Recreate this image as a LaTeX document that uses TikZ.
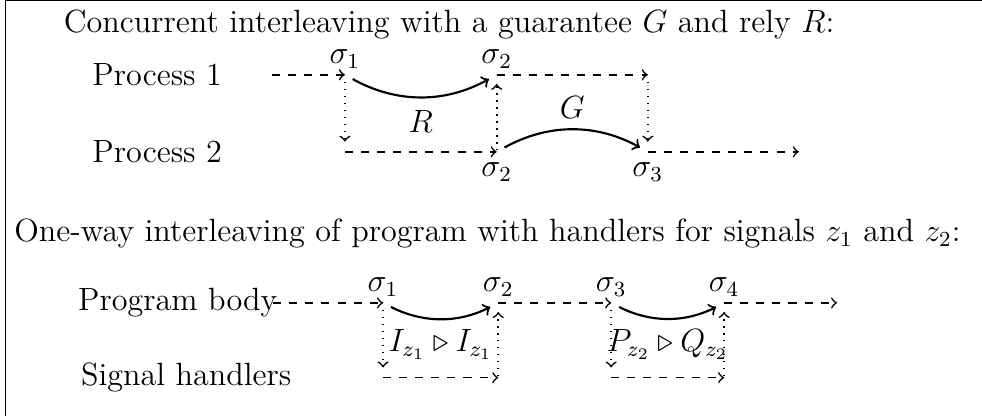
\documentclass[tikz,border=0pt,12pt]{standalone}
\usetikzlibrary{arrows}

\begin{document}
\begin{tikzpicture}[
    trace/.style={->, dashed, semithick},
    env/.style={->, dotted, semithick, shorten <=2.6pt, shorten >=3.8pt},
    back/.style={->, dotted, semithick, shorten <=0.5pt, shorten >=3.4pt},
    move/.style={->, thick, shorten <=3.3pt, shorten >=3.3pt},
    tag/.style={inner sep=2.3pt}
]
    \useasboundingbox (0,0) rectangle (12.87,-5.452);
    \draw (0.075,-5.6) -- (0.075,-0.009) -- (13,-0.009);

    % Concurrent interleaving
    \node[anchor=base west] (title1) at (0.69,-0.42) {Concurrent interleaving with a guarantee $G$ and rely $R$:};
    \node (proc1) at (2.06,-0.98) {Process 1};
    \node (proc2) at (2.06,-1.99) {Process 2};

    \coordinate (in1) at (3.56,-0.98);
    \coordinate[label={[tag]above:$\sigma_1$}] (p1) at (4.52,-0.98);
    \coordinate[label={[tag]above:$\sigma_2$}] (p2) at (6.51,-0.98);
    \coordinate (p3) at (8.49,-0.98);
    \coordinate (q1) at (4.52,-1.99);
    \coordinate[label=below:$\sigma_2$] (q2) at (6.51,-1.99);
    \coordinate[label=below:$\sigma_3$] (q3) at (8.49,-1.99);
    \coordinate (out1) at (10.47,-1.99);

    \draw[trace] (in1) -- (p1);
    \draw[move] (p1) to[bend right=29] node[below=1pt] (rely) {$R$} (p2);
    \draw[trace] (p2) -- (p3);
    \draw[env] (p1) -- (q1);
    \draw[trace] (q1) -- (q2);
    \draw[back] (q2) -- (p2);
    \draw[move] (q2) to[bend left=29] node[above] (guar) {$G$} (q3);
    \draw[env] (p3) -- (q3);
    \draw[trace] (q3) -- (out1);

    % One-way interleaving
    \node[anchor=base west] (title2) at (0.04,-3.17) {One-way interleaving of program with handlers for signals $z_1$ and $z_2$:};
    \node (body) at (2.33,-3.97) {Program body};
    \node (hand) at (2.44,-4.95) {Signal handlers};

    \coordinate (in2) at (3.58,-3.97);
    \foreach \n/\x in {1/5.02, 2/6.53, 3/8.01, 4/9.49} {
        \coordinate[label={[tag]above:$\sigma_\n$}] (u\n) at (\x,-3.97);
        \coordinate (v\n) at (\x,-4.95);
    }
    \coordinate (out2) at (10.97,-3.97);

    \draw[trace] (in2) -- (u1);
    \draw[move] (u1) to[bend right=27] node[below] (hz1) {$I_{z_1} \triangleright I_{z_1}$} (u2);
    \draw[trace] (u2) -- (u3);
    \draw[move] (u3) to[bend right=27] node[below] (hz2) {$P_{z_2} \triangleright Q_{z_2}$} (u4);
    \draw[trace] (u4) -- (out2);
    \draw[env] (u1) -- (v1);
    \draw[trace] (v1) -- (v2);
    \draw[back] (v2) -- (u2);
    \draw[env] (u3) -- (v3);
    \draw[trace] (v3) -- (v4);
    \draw[back] (v4) -- (u4);
\end{tikzpicture}
\end{document}
